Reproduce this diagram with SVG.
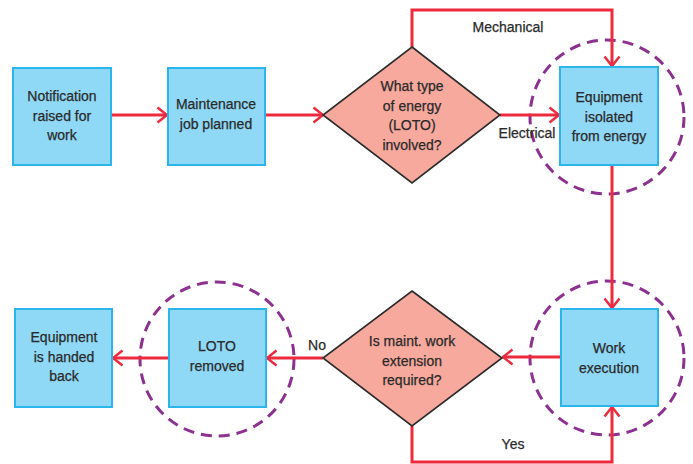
<svg xmlns="http://www.w3.org/2000/svg" width="693" height="464" viewBox="0 0 693 464">
<defs>
<style>
.box{fill:#8fd8f6;stroke:#2cb5ea;stroke-width:2}
.dia{fill:#f7a99d;stroke:#2b2b2b;stroke-width:1.6}
.ring{fill:none;stroke:#8c318f;stroke-width:3;stroke-dasharray:11 7}
.con{fill:none;stroke:#ee2a3e;stroke-width:3;marker-end:url(#arr)}
text{font-family:"Liberation Sans",Arial,sans-serif;font-size:14px;fill:#2a2a2a;stroke:#2a2a2a;stroke-width:0.25;text-anchor:middle}
</style>
<marker id="arr" viewBox="0 0 12 18" refX="11" refY="9" markerWidth="12" markerHeight="18" markerUnits="userSpaceOnUse" orient="auto">
<path d="M1.5,1.5 L11,9 L1.5,16.5" fill="none" stroke="#ee2a3e" stroke-width="2.5"/>
</marker>
</defs>
<rect width="693" height="464" fill="#fff"/>
<g id="rings">
<circle class="ring" cx="607" cy="117" r="77"/>
<circle class="ring" cx="607" cy="358" r="77"/>
<circle class="ring" cx="217" cy="359" r="77"/>
</g>
<g id="connectors">
<path class="con" d="M111,115 H167"/>
<path class="con" d="M265,115 H323"/>
<path class="con" d="M412,47 V10 H612 V66"/>
<path class="con" d="M500,115 H559"/>
<path class="con" d="M612,165 V308"/>
<path class="con" d="M561,357 H503"/>
<path class="con" d="M412,426 V462 H612 V407"/>
<path class="con" d="M323,358 H267"/>
<path class="con" d="M169,358 H113"/>
<text x="508" y="32">Mechanical</text>
<text x="527" y="138">Electrical</text>
<text x="513" y="449">Yes</text>
<text x="317" y="350">No</text>
</g>
<g id="n1">
<rect class="box" x="13" y="68" width="98" height="97"/>
<text x="62" y="101">Notification</text>
<text x="62" y="121">raised for</text>
<text x="62" y="140">work</text>
</g>
<g id="n2">
<rect class="box" x="168" y="68" width="97" height="97"/>
<text x="216" y="109">Maintenance</text>
<text x="216" y="129">job planned</text>
</g>
<g id="d1">
<polygon class="dia" points="412,47 500,115 412,183 323,115"/>
<text x="412" y="91">What type</text>
<text x="412" y="111">of energy</text>
<text x="412" y="130">(LOTO)</text>
<text x="412" y="150">involved?</text>
</g>
<g id="n3">
<rect class="box" x="560" y="67" width="98" height="98"/>
<text x="609" y="102">Equipment</text>
<text x="609" y="122">isolated</text>
<text x="609" y="141">from energy</text>
</g>
<g id="n4">
<rect class="box" x="561" y="309" width="97" height="97"/>
<text x="609" y="353">Work</text>
<text x="609" y="373">execution</text>
</g>
<g id="d2">
<polygon class="dia" points="412,291 502,358 412,426 323,358"/>
<text x="412" y="346">Is maint. work</text>
<text x="412" y="366">extension</text>
<text x="412" y="385">required?</text>
</g>
<g id="n5">
<rect class="box" x="169" y="309" width="97" height="98"/>
<text x="217" y="351">LOTO</text>
<text x="217" y="371">removed</text>
</g>
<g id="n6">
<rect class="box" x="15" y="309" width="97" height="98"/>
<text x="64" y="342">Equipment</text>
<text x="64" y="362">is handed</text>
<text x="64" y="381">back</text>
</g>
</svg>
